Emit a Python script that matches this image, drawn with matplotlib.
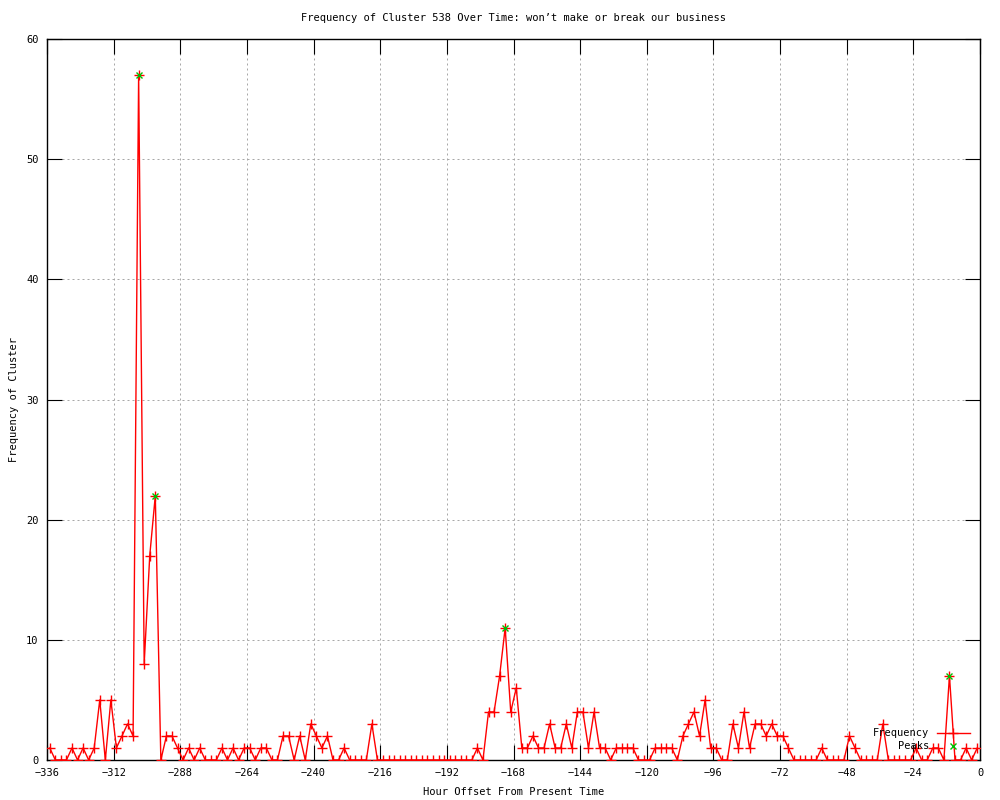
import numpy as np
import matplotlib
matplotlib.use("Agg")
import matplotlib.pyplot as plt

# hourly samples every 2 hours, oldest first
hours = np.arange(-335, 0, 2)
freq = [
    1, 0, 0, 0, 1, 0, 1, 0, 1, 5,
    0, 5, 1, 2, 3, 2, 57, 8, 17, 22,
    0, 2, 2, 1, 0, 1, 0, 1, 0, 0,
    0, 1, 0, 1, 0, 1, 1, 0, 1, 1,
    0, 0, 2, 2, 0, 2, 0, 3, 2, 1,
    2, 0, 0, 1, 0, 0, 0, 0, 3, 0,
    0, 0, 0, 0, 0, 0, 0, 0, 0, 0,
    0, 0, 0, 0, 0, 0, 0, 1, 0, 4,
    4, 7, 11, 4, 6, 1, 1, 2, 1, 1,
    3, 1, 1, 3, 1, 4, 4, 1, 4, 1,
    1, 0, 1, 1, 1, 1, 0, 0, 0, 1,
    1, 1, 1, 0, 2, 3, 4, 2, 5, 1,
    1, 0, 0, 3, 1, 4, 1, 3, 3, 2,
    3, 2, 2, 1, 0, 0, 0, 0, 0, 1,
    0, 0, 0, 0, 2, 1, 0, 0, 0, 0,
    3, 0, 0, 0, 0, 0, 1, 0, 0, 1,
    1, 0, 7, 0, 0, 1, 0, 1,
]
peak_hours = [-303, -297, -171, -11]
peak_vals = [57, 22, 11, 7]

x_ticks = list(range(-336, 1, 24))
y_ticks = list(range(0, 61, 10))

RED = "#ff0000"
GREEN = "#00c000"
FONT = "DejaVu Sans Mono"
FS = 7.5

plt.rcParams["font.family"] = [FONT]

fig = plt.figure(figsize=(10, 8), dpi=100)
ax = fig.add_axes([0.047, 0.05, 0.933, 0.90125])

ax.plot(hours, freq, color=RED, linewidth=1.0, marker="+", markersize=6.5,
        markeredgewidth=1.0, zorder=3)
ax.plot(peak_hours, peak_vals, linestyle="none", marker="x", color=GREEN,
        markersize=5, markeredgewidth=1.0, zorder=4)

ax.set_xlim(-336, 0)
ax.set_ylim(0, 60)
ax.set_xticks(x_ticks)
ax.set_yticks(y_ticks)
ax.tick_params(direction="in", length=11, width=0.8, top=True, right=True,
               labelsize=FS, pad=6)
for s in ax.spines.values():
    s.set_linewidth(1.0)
ax.grid(True, color="#a8a8a8", linestyle=(0, (2, 3)), linewidth=0.72)
ax.set_axisbelow(True)

ax.set_xlabel("Hour Offset From Present Time", fontsize=FS, labelpad=6)
ax.set_ylabel("Frequency of Cluster", fontsize=FS, labelpad=5)
fig.text(0.5135, 1 - 18 / 800,
         "Frequency of Cluster 538 Over Time: won\u2019t make or break our business",
         ha="center", va="center", fontsize=FS)

# gnuplot-style key, bottom right, text right-justified
ax.text(0.946, 0.0374, "Frequency", transform=ax.transAxes, ha="right",
        va="center", fontsize=FS)
ax.text(0.946, 0.0194, "Peaks", transform=ax.transAxes, ha="right",
        va="center", fontsize=FS)
ax.plot([0.954, 0.989], [0.0374, 0.0374], transform=ax.transAxes, color=RED,
        linewidth=1.0, clip_on=False, zorder=5)
ax.plot([0.9715], [0.0374], transform=ax.transAxes, color=RED, marker="+",
        markersize=6.5, markeredgewidth=1.0, clip_on=False, zorder=5)
ax.plot([0.9715], [0.0194], transform=ax.transAxes, color=GREEN, marker="x",
        markersize=5, markeredgewidth=1.0, clip_on=False, zorder=5)

fig.savefig("out.png", dpi=100)
